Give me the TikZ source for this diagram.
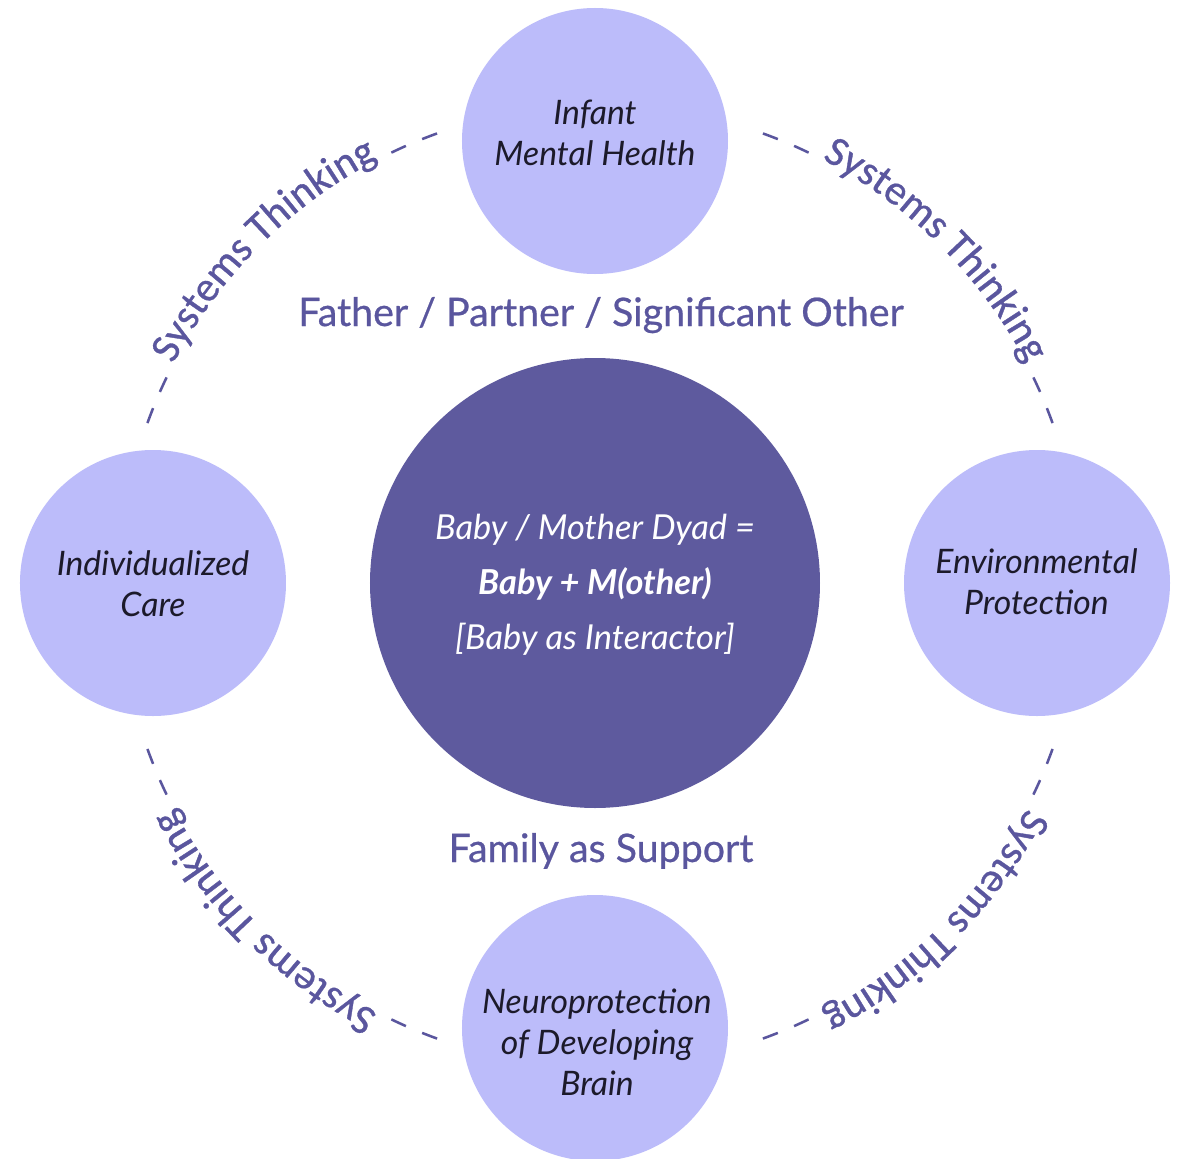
\documentclass[tikz,border=0pt]{standalone}
\usepackage{fontspec}
\setmainfont{Lato}
\newfontfamily\stfont{Carlito}[FakeBold=0.8]
\newfontfamily\midfont{Lato}[FakeBold=0.6]
\usetikzlibrary{decorations.text,calc}
\definecolor{lav}{RGB}{188,188,250}
\definecolor{hubcol}{RGB}{94,90,158}
\definecolor{txt}{RGB}{90,86,158}
\definecolor{sattxt}{RGB}{28,26,42}
\tikzset{
  sat/.style={circle,fill=lav,draw=none,minimum size=199.5pt,inner sep=0pt},
  hub/.style={circle,fill=hubcol,draw=none,minimum size=337.5pt,inner sep=0pt},
  hubtext/.style={text=white,align=center,inner sep=0pt,
    font=\itshape\fontsize{25.8}{41.25}\selectfont},
  satlabel/.style={align=center,text=sattxt,inner sep=0pt,
    font=\itshape\fontsize{25.3}{30.75}\selectfont},
  midtext/.style={text=txt,inner sep=0pt,font=\midfont\fontsize{29.5}{34}\selectfont},
  dashseg/.style={draw=txt,line width=1.9pt},
  ringtext/.style={decorate,decoration={text along path,text align=center,
    text color=txt,text={|\stfont\fontsize{31.5}{36}\selectfont|Systems Thinking}}}
}
\begin{document}
\begin{tikzpicture}[x=0.75pt,y=0.75pt]
\useasboundingbox (-595,-575) rectangle (583,583);
\fill[white] (-595,-575) rectangle (583,583);
\coordinate (ring) at (5,-3);
% dashed ring pieces and ring texts
\foreach \d in {135,45,-45,-135}{
  \foreach \a/\b in {19.3/21.2,23.3/25.2,-21.2/-19.3,-25.2/-23.3}{
    \draw[dashseg] ($(ring)+(\d+\a:481)$) arc[start angle=\d+\a,end angle=\d+\b,radius=481];
  }
  \path[ringtext] ($(ring)+(\d+18:481)$) arc[start angle=\d+18,end angle=\d-18,radius=481];
}
% hub
\node[hub] (hub) at (0,0) {};
\node[hubtext] (hubl) at (0,-2) {Baby / Mother Dyad =\\\textbf{Baby + M(other)}\\{[}Baby as Interactor{]}};
% satellites
\node[sat] (imh) at (0,442) {};
\node[sat] (ic) at (-442,0) {};
\node[sat] (ep) at (442,0) {};
\node[sat] (nd) at (0,-445) {};
\node[satlabel] (imhl) at (0,450.5) {Infant\\Mental Health};
\node[satlabel] (icl) at (-442,-1) {Individualized\\Care};
\node[satlabel] (epl) at (441.5,1) {Environmental\\Protection};
\node[satlabel] (ndl) at (2,-459) {Neuroprotection\\of Developing\\Brain};
% middle labels
\node[midtext,anchor=base] (father) at (6,257) {Father / Partner / Significant Other};
\node[midtext,anchor=base] (family) at (6,-279) {Family as Support};
\end{tikzpicture}
\end{document}
